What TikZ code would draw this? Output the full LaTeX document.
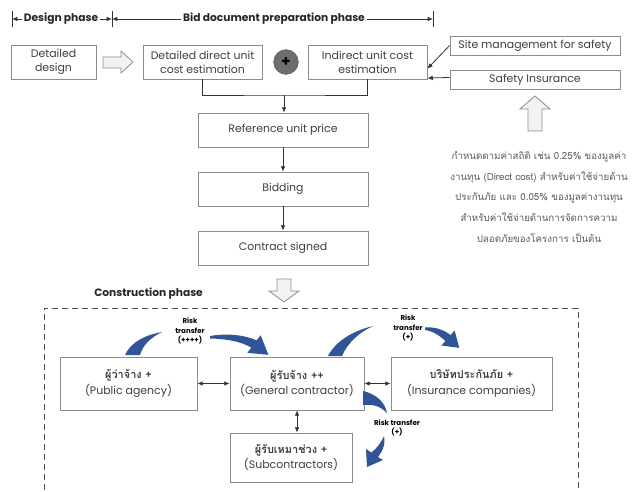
\documentclass[tikz,border=0pt]{standalone}
\usepackage{fontspec}
\setmainfont{Poppins}
\newfontfamily\thaifont[Script=Thai]{Loma}
\usetikzlibrary{arrows.meta}
\definecolor{boxline}{HTML}{8C8C8C}
\definecolor{txt}{HTML}{3F3F3F}
\definecolor{wire}{HTML}{333333}
\definecolor{riskblue}{HTML}{2F5597}
\definecolor{hollow}{HTML}{F2F2F2}
\definecolor{note}{HTML}{595959}
\definecolor{plusgray}{HTML}{6E6E6E}

\begin{document}
\begin{tikzpicture}[x=0.75pt,y=-0.75pt,
  bx/.style={draw=boxline, line width=0.6pt, fill=white, text=txt, align=center,
    inner sep=0pt, font=\fontsize{8.2}{10.5}\selectfont},
  party/.style={bx, font=\fontsize{8.2}{11.5}\selectfont},
  phase/.style={font=\bfseries\fontsize{8}{10}\selectfont, text=black!85, inner sep=1.5pt},
  wire/.style={draw=wire, line width=0.6pt},
  tip/.style={-{Latex[length=4pt,width=3.5pt]}},
  both/.style={{Latex[length=4pt,width=3.5pt]}-{Latex[length=4pt,width=3.5pt]}},
  hollowarrow/.style={draw=boxline, line width=0.6pt, fill=hollow},
  risk/.style={font=\bfseries\fontsize{5.3}{7.3}\selectfont, align=center, inner sep=0pt},
  bluearc/.style={fill=riskblue, draw=none}
]
\useasboundingbox (0,0) rectangle (632,492);

% ---------- phase header ----------
\coordinate (t0) at (12,19);
\coordinate (t1) at (112,19);
\coordinate (t2) at (433,19);
\foreach \c in {t0,t1,t2} \draw[wire] ([yshift=-6pt]\c) -- ([yshift=6pt]\c);
\node[phase] (dp) at (61,19) {Design phase};
\node[phase] (bp) at (274,19) {Bid document preparation phase};
\draw[wire,tip] (dp.west) -- (t0);
\draw[wire,tip] (dp.east) -- (t1);
\draw[wire,tip] (bp.west) -- (t1);
\draw[wire,tip] (bp.east) -- (t2);

% ---------- estimation row ----------
\node[bx, minimum width=63.75pt, minimum height=25.5pt] (design) at (53.5,62) {Detailed\\design};
\node[bx, minimum width=89.25pt, minimum height=25.5pt] (direct) at (202.5,62) {Detailed direct unit\\cost estimation};
\node[bx, minimum width=89.25pt, minimum height=25.5pt] (indirect) at (367.5,62) {Indirect unit cost\\estimation};
\node[circle, fill=plusgray, draw=plusgray!80!black, minimum size=18.5pt, inner sep=0pt,
      font=\bfseries\fontsize{11}{11}\selectfont] (plus) at (286,62) {+};
\node[bx, minimum width=127.5pt, minimum height=14.25pt] (site) at (535,45.5) {Site management for safety};
\node[bx, minimum width=127.5pt, minimum height=14.25pt] (safety) at (535,79.5) {Safety Insurance};

% hollow arrow: design -> direct estimate
\draw[hollowarrow] (103,57) -- (121,57) -- (121,51) -- (133,62) -- (121,73) -- (121,68) -- (103,68) -- cycle;

% inputs to the indirect estimate
\draw[wire,tip] (site.west) -- ([yshift=-5pt]indirect.east);
\draw[wire,tip] ([yshift=1.5pt]safety.west) -- ([yshift=-12pt]indirect.east);

% ---------- price chain ----------
\node[bx, minimum width=127.5pt, minimum height=25.5pt] (ref) at (283,130) {Reference unit price};
\node[bx, minimum width=127.5pt, minimum height=25.5pt] (bid) at (283,189) {Bidding};
\node[bx, minimum width=127.5pt, minimum height=25.5pt] (sign) at (283,248) {Contract signed};

\coordinate (join) at (284,95);
\draw[wire] (direct.south) |- (join) -| (indirect.south);
\draw[wire,tip] (join) -- (join |- ref.north);
\draw[wire,tip] (ref.south) -- (bid.north);
\draw[wire,tip] (bid.south) -- (sign.north);

% hollow arrow into the construction phase
\draw[hollowarrow] (277,279) -- (291,279) -- (291,291) -- (299,291) -- (284,302) -- (269,291) -- (277,291) -- cycle;

% hollow arrow up to the safety items, with its note
\draw[hollowarrow] (528,131) -- (542,131) -- (542,109) -- (550,109) -- (535,96) -- (520,109) -- (528,109) -- cycle;
\node[align=center, text=note, inner sep=0pt, font=\thaifont\fontsize{7.3}{15.4}\selectfont] (note) at (539,197)
  {กำหนดตามค่าสถิติ เช่น 0.25\% ของมูลค่า\\
   งานทุน (Direct cost) สำหรับค่าใช้จ่ายด้าน\\
   ประกันภัย และ 0.05\% ของมูลค่างานทุน\\
   สำหรับค่าใช้จ่ายด้านการจัดการความ\\
   ปลอดภัยของโครงการ เป็นต้น};

% ---------- construction phase ----------
\node[phase, anchor=west] (cp) at (92,294) {Construction phase};
\draw[draw=black!70, line width=0.6pt, dash pattern=on 4.5pt off 3pt] (44,500) -- (44,308) -- (578,308) -- (578,500);

\node[party, minimum width=102.75pt, minimum height=39.75pt] (pa) at (128.5,383.5)
  {{\thaifont\bfseries ผู้ว่าจ้าง +}\\(Public agency)};
\node[party, minimum width=100.5pt, minimum height=39.75pt] (gc) at (297,383.5)
  {{\thaifont\bfseries ผู้รับจ้าง ++}\\(General contractor)};
\node[party, minimum width=120.75pt, minimum height=39.75pt] (ins) at (471.5,383.5)
  {{\thaifont\bfseries บริษัทประกันภัย +}\\(Insurance companies)};
\node[party, minimum width=91.5pt, minimum height=36.75pt] (sub) at (291,457.5)
  {{\thaifont\bfseries ผู้รับเหมาช่วง +}\\(Subcontractors)};

\draw[wire,both] (pa.east) -- (gc.west);
\draw[wire,both] (gc.east) -- (ins.west);
\draw[wire,both] (gc.south) -- (gc.south |- sub.north);

% risk transfer: public agency -> general contractor
\node[risk] (r1) at (190,331) {Risk\\transfer\\(++++)};
\fill[bluearc] (125,355) .. controls (131,342) and (145,335) .. (162,332)
  .. controls (150,338) and (143,345) .. (140,355) -- cycle;
\fill[bluearc] (210,336) .. controls (227,333) and (245,335) .. (256.7,340.4)
  -- (260.6,335.2) -- (268.4,354.8) -- (247.4,352.8) -- (251.3,347.6)
  .. controls (240,341) and (226,339) .. (210,338.5) -- cycle;

% risk transfer: general contractor -> insurance companies
\node[risk] (r2) at (408,328) {Risk\\transfer\\(+)};
\fill[bluearc] (328,356) .. controls (335,342) and (352,331) .. (373,326)
  .. controls (360,332) and (348,342) .. (342,356) -- cycle;
\fill[bluearc] (425,327.5) .. controls (435,326.5) and (444,330) .. (450.6,335)
  -- (454.6,330.5) -- (459.3,347.9) -- (441.4,345.5) -- (445.4,341)
  .. controls (440,336) and (433,331) .. (425,330) -- cycle;

% risk transfer: general contractor -> subcontractors
\node[risk] (r3) at (397,428) {Risk transfer\\(+)};
\fill[bluearc] (363,391) .. controls (376,394) and (385,402) .. (387,413)
  .. controls (380,406) and (373,404) .. (363,405) -- cycle;
\fill[bluearc] (384,436) .. controls (386,444) and (382,452) .. (378,457)
  -- (383,460) -- (367,467) -- (366,449) -- (371.5,452.5)
  .. controls (377,448) and (381,443) .. (384,436) -- cycle;

\end{tikzpicture}
\end{document}
